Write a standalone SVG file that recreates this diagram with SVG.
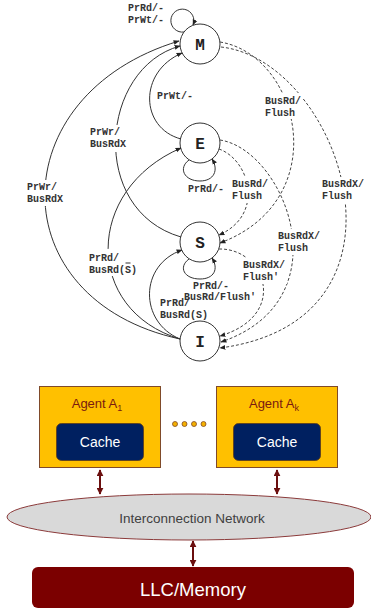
<svg xmlns="http://www.w3.org/2000/svg" width="371" height="612" viewBox="0 0 371 612">
  <style>
    .state { fill: #fff; stroke: #333; stroke-width: 1; }
    .state-label { font-family: "Liberation Mono", "DejaVu Sans Mono", monospace; font-weight: bold; font-size: 16px; fill: #222; text-anchor: middle; }
    .tr { fill: none; stroke: #333; stroke-width: 1; }
    .snoop { fill: none; stroke: #444; stroke-width: 1; stroke-dasharray: 3 2; }
    .lbl { font-family: "Liberation Mono", "DejaVu Sans Mono", monospace; font-weight: bold; font-size: 10px; fill: #333; }
    .gap { fill: #fff; }
    .agent { fill: #ffc000; stroke: #7f4a2a; stroke-width: 1; }
    .agent-title { font-family: "Liberation Sans", Arial, sans-serif; font-size: 13px; fill: #7a1a10; text-anchor: middle; }
    .cache { fill: #002060; stroke: #5a3a1a; stroke-width: 0.8; }
    .cache-text { font-family: "Liberation Sans", Arial, sans-serif; font-size: 14px; fill: #fff; text-anchor: middle; }
    .link { stroke: #6b0f0f; stroke-width: 2; fill: none; }
    .dot { fill: #f4b000; stroke: #7f4a2a; stroke-width: 0.8; }
  </style>
  <defs>
    <marker id="arr" viewBox="0 0 10 10" refX="9" refY="5" markerWidth="6" markerHeight="6" markerUnits="userSpaceOnUse" orient="auto">
      <path d="M0,1 L10,5 L0,9 z" fill="#222"/>
    </marker>
    <marker id="bus" viewBox="0 0 10 10" refX="9" refY="5" markerWidth="7" markerHeight="7" markerUnits="userSpaceOnUse" orient="auto-start-reverse">
      <path d="M0,0 L10,5 L0,10 z" fill="#6b0f0f"/>
    </marker>
  </defs>

  <!-- MESI states -->
  <g id="node-M"><circle class="state" cx="200" cy="44" r="20"/><text class="state-label" x="200" y="49.5">M</text></g>
  <g id="node-E"><circle class="state" cx="200" cy="143" r="20"/><text class="state-label" x="200" y="148.5">E</text></g>
  <g id="node-S"><circle class="state" cx="200" cy="242" r="20"/><text class="state-label" x="200" y="247.5">S</text></g>
  <g id="node-I"><circle class="state" cx="200" cy="341" r="20"/><text class="state-label" x="200" y="346.5">I</text></g>

  <!-- transitions -->
  <g id="connectors">
    <!-- processor-initiated (solid) -->
    <path class="tr" d="M184,32 A11.5 11.5 0 1 1 193,25" marker-end="url(#arr)"/>
    <path class="tr" d="M189,160 C178,168 184,181 200,181 C214,181 219,170 212,159" marker-end="url(#arr)"/>
    <path class="tr" d="M189,259 C178,267 184,279 200,279 C214,279 219,269 212,258" marker-end="url(#arr)"/>
    <path class="tr" d="M180,339 C0,300 0,95 179,41" marker-end="url(#arr)"/>
    <path class="tr" d="M181,237 C88,210 100,68 180,46" marker-end="url(#arr)"/>
    <path class="tr" d="M181,139 C140,128 138,72 182,53" marker-end="url(#arr)"/>
    <path class="tr" d="M180,339 C84,310 84,190 181,148" marker-end="url(#arr)"/>
    <path class="tr" d="M180,339 C139,322 139,265 182,250" marker-end="url(#arr)"/>

    <!-- bus-snooped (dashed) -->
    <path class="snoop" d="M220,42 C300,55 335,200 220,243" marker-end="url(#arr)"/>
    <path class="snoop" d="M221,47 C340,60 430,320 220,348" marker-end="url(#arr)"/>
    <path class="snoop" d="M219,149 C250,160 265,215 219,235" marker-end="url(#arr)"/>
    <path class="snoop" d="M220,140 C285,150 345,300 221,342" marker-end="url(#arr)"/>
    <path class="snoop" d="M219,249 C265,248 290,315 220,336" marker-end="url(#arr)"/>

    <!-- breaks in the arcs behind the labels -->
    <rect class="gap" x="263" y="93" width="40" height="26"/>
    <rect class="gap" x="88" y="125" width="40" height="27"/>
    <rect class="gap" x="25" y="180" width="40" height="26"/>
    <rect class="gap" x="230" y="177" width="40" height="26"/>
    <rect class="gap" x="320" y="177" width="46" height="26"/>
    <rect class="gap" x="276" y="229" width="46" height="26"/>
    <rect class="gap" x="87" y="249" width="58" height="27"/>
    <rect class="gap" x="241" y="258" width="46" height="26"/>

    <!-- transition labels -->
    <text class="lbl" x="128" y="10.5">PrRd/-</text>
    <text class="lbl" x="128" y="22.5">PrWt/-</text>
    <text class="lbl" x="157" y="98.5">PrWt/-</text>
    <text class="lbl" x="265" y="103.5">BusRd/</text>
    <text class="lbl" x="265" y="115.5">Flush</text>
    <text class="lbl" x="90" y="135">PrWr/</text>
    <text class="lbl" x="90" y="147">BusRdX</text>
    <text class="lbl" x="27" y="190">PrWr/</text>
    <text class="lbl" x="27" y="202">BusRdX</text>
    <text class="lbl" x="188" y="191.5">PrRd/-</text>
    <text class="lbl" x="232" y="186.5">BusRd/</text>
    <text class="lbl" x="232" y="198.5">Flush</text>
    <text class="lbl" x="322" y="186.5">BusRdX/</text>
    <text class="lbl" x="322" y="198.5">Flush</text>
    <text class="lbl" x="278" y="238.5">BusRdX/</text>
    <text class="lbl" x="278" y="250.5">Flush</text>
    <text class="lbl" x="89" y="260.5">PrRd/</text>
    <text class="lbl" x="89" y="272.5">BusRd(S)</text>
    <line x1="125.5" y1="263" x2="130.5" y2="263" stroke="#333" stroke-width="1"/>
    <text class="lbl" x="243" y="268">BusRdX/</text>
    <text class="lbl" x="243" y="280">Flush'</text>
    <text class="lbl" x="193" y="288.5">PrRd/-</text>
    <text class="lbl" x="184" y="299.5">BusRd/Flush'</text>
    <text class="lbl" x="160" y="306">PrRd/</text>
    <text class="lbl" x="160" y="318">BusRd(S)</text>

    <!-- system links -->
    <line class="link" x1="100" y1="470" x2="100" y2="494" marker-start="url(#bus)" marker-end="url(#bus)"/>
    <line class="link" x1="277" y1="470" x2="277" y2="494" marker-start="url(#bus)" marker-end="url(#bus)"/>
    <line class="link" x1="193" y1="541" x2="193" y2="566" marker-start="url(#bus)" marker-end="url(#bus)"/>
  </g>

  <!-- system organisation -->
  <g id="agent-1">
    <rect class="agent" x="39.5" y="386.5" width="121" height="81"/>
    <text class="agent-title" x="97" y="408">Agent A<tspan font-size="9" dy="3">1</tspan></text>
    <rect class="cache" x="56.5" y="423.5" width="87" height="37" rx="5"/>
    <text class="cache-text" x="100" y="446.5">Cache</text>
  </g>
  <g id="ellipsis">
    <circle class="dot" cx="175" cy="424" r="2.5"/>
    <circle class="dot" cx="184.5" cy="424" r="2.5"/>
    <circle class="dot" cx="194" cy="424" r="2.5"/>
    <circle class="dot" cx="203.5" cy="424" r="2.5"/>
  </g>
  <g id="agent-k">
    <rect class="agent" x="216.5" y="386.5" width="121" height="81"/>
    <text class="agent-title" x="274" y="408">Agent A<tspan font-size="9" dy="3">k</tspan></text>
    <rect class="cache" x="233.5" y="423.5" width="87" height="37" rx="5"/>
    <text class="cache-text" x="277" y="446.5">Cache</text>
  </g>
  <g id="network">
    <ellipse cx="189" cy="517" rx="182" ry="23" fill="#d9d9d9" stroke="#8b3a3a" stroke-width="1"/>
    <text x="192" y="522.5" font-family="Liberation Sans, Arial, sans-serif" font-size="13.5" fill="#404040" text-anchor="middle">Interconnection Network</text>
  </g>
  <g id="llc">
    <rect x="32" y="567" width="322" height="41" rx="6" fill="#7b0000"/>
    <text x="193" y="596" font-family="Liberation Sans, Arial, sans-serif" font-size="18.5" fill="#fff" text-anchor="middle">LLC/Memory</text>
  </g>
</svg>
